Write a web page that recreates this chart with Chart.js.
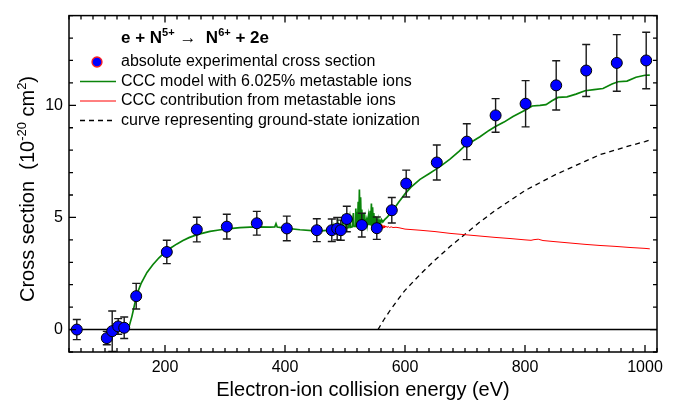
<!DOCTYPE html>
<html lang="en">
  <head>
    <meta charset="UTF-8" />
    <title>e + N5+ ionization</title>
    <style>
      html, body { margin: 0; padding: 0; background: #fff; }
      #wrap { width: 675px; height: 407px; }
    </style>
  </head>
  <body>
    <div id="wrap"><canvas id="myChart" width="675" height="407"></canvas></div>
    <script src="https://cdn.jsdelivr.net/npm/chart.js"></script>
    <script>
      const FONT = "'Liberation Sans', Arial, Helvetica, sans-serif";

      // experimental points (eV, 1e-20 cm^2, error)
      const expEnergy = [53, 103, 112, 122, 132, 152, 203, 253, 303, 353, 403, 453, 478, 487, 493, 503, 528, 553, 578, 602, 653, 703, 751, 801, 852, 902, 953, 1002];
      const expCross = [0.0, -0.38, -0.07, 0.14, 0.08, 1.49, 3.46, 4.46, 4.59, 4.74, 4.51, 4.43, 4.43, 4.5, 4.43, 4.93, 4.66, 4.52, 5.32, 6.51, 7.45, 8.38, 9.55, 10.07, 10.89, 11.55, 11.89, 12.0];
      const expError = [0.45, 0.3, 0.9, 0.35, 0.48, 0.57, 0.52, 0.55, 0.55, 0.53, 0.55, 0.51, 0.5, 0.5, 0.45, 0.57, 0.53, 0.5, 0.57, 0.6, 0.78, 0.8, 0.75, 1.03, 1.1, 1.16, 1.26, 1.26];

      // CCC model with metastables (green)
      const cccEnergy = [130, 135, 140, 145, 150, 155, 160, 170, 180, 190, 200, 210, 220, 230, 240, 250, 260, 275, 290, 300, 325, 350, 375, 383, 385, 387, 400, 425, 450, 460, 470,
        478, 480, 481, 486, 488, 489, 494, 496, 497, 500, 502, 503, 506, 508, 509, 512, 514, 515, 517, 518, 519, 520, 521, 522, 523, 524, 525, 526, 527, 528, 529, 530, 531,
        533, 534, 536, 537, 539, 540, 542, 543, 544, 545, 546, 547, 548, 549, 550, 551, 552, 553, 555, 556, 558, 559, 561, 563, 566, 570, 575, 580, 590, 600, 610, 625, 640,
        650, 660, 675, 690, 700, 710, 725, 740, 750, 765, 780, 800, 812, 825, 835, 845, 855, 870, 885, 900, 915, 930, 945, 955, 970, 985, 1000, 1008];
      const cccCross = [0, 0, 0.12, 0.6, 1.2, 1.7, 2.05, 2.55, 2.9, 3.2, 3.45, 3.65, 3.82, 3.97, 4.1, 4.2, 4.28, 4.38, 4.44, 4.48, 4.55, 4.58, 4.57, 4.58, 4.72, 4.57, 4.52, 4.45, 4.4, 4.4, 4.42,
        4.44, 4.62, 4.45, 4.47, 4.75, 4.47, 4.49, 4.85, 4.5, 4.52, 5.05, 4.53, 4.55, 4.95, 4.56, 4.58, 5.2, 4.6, 4.6, 5.4, 4.62, 5.25, 4.63, 5.7, 4.65, 6.25, 4.67, 5.9, 4.68, 5.35, 4.7, 5.15, 4.7,
        5.0, 4.68, 4.9, 4.66, 5.05, 4.65, 5.3, 4.64, 5.62, 4.64, 5.45, 4.63, 5.2, 4.62, 5.05, 4.62, 4.95, 4.62, 4.9, 4.65, 4.85, 4.7, 4.9, 4.8, 4.9, 5.0, 5.15, 5.32, 5.7, 6.05, 6.35, 6.7, 6.95,
        7.12, 7.3, 7.6, 7.95, 8.2, 8.35, 8.6, 8.88, 9.04, 9.25, 9.5, 9.78, 9.97, 10.0, 10.03, 10.2, 10.35, 10.38, 10.5, 10.65, 10.7, 10.75, 10.95, 11.05, 11.08, 11.25, 11.34, 11.35];

      // CCC metastable contribution (red)
      const metaEnergy = [555, 556, 557, 558, 559, 560, 561, 562, 563, 564, 565, 566, 568, 570, 572, 574, 577, 580, 585, 590, 600, 625, 650, 675, 700, 725, 750, 775, 800, 810, 815, 822, 830, 850, 875, 900, 925, 950, 975, 1000, 1008];
      const metaCross = [4.6, 4.5, 4.72, 4.52, 4.68, 4.5, 4.7, 4.53, 4.65, 4.52, 4.63, 4.54, 4.62, 4.55, 4.6, 4.55, 4.58, 4.55, 4.56, 4.54, 4.48, 4.43, 4.37, 4.29, 4.23, 4.17, 4.11, 4.06, 4.0, 3.98, 4.01, 4.03, 3.97, 3.92, 3.86, 3.8, 3.75, 3.71, 3.66, 3.62, 3.6];

      // ground-state ionization (dashed)
      const groundEnergy = [555, 565, 575, 590, 600, 625, 650, 675, 700, 725, 750, 775, 800, 825, 850, 875, 900, 925, 950, 975, 1000, 1008];
      const groundCross = [0, 0.45, 0.85, 1.4, 1.75, 2.45, 3.1, 3.7, 4.25, 4.8, 5.3, 5.75, 6.2, 6.55, 6.9, 7.2, 7.5, 7.8, 8.0, 8.2, 8.38, 8.45];

      const zeroEnergy = [40, 1020];
      const zeroCross = [0, 0];

      const xTicks = [200, 400, 600, 800, 1000];
      const yTicks = [0, 5, 10];

      const pairs = (xs, ys) => xs.map((x, i) => ({ x: x, y: ys[i] }));

      //error bars under the points, above the lines
      const errorBars = {
        id: "errorBars",
        beforeDatasetDraw(chart, args) {
          if (args.index !== 0) return;
          const { ctx, scales } = chart;
          ctx.save();
          ctx.strokeStyle = "#1a1a1a";
          ctx.lineWidth = 1.4;
          expEnergy.forEach((e, i) => {
            const px = scales.x.getPixelForValue(e);
            const y1 = scales.y.getPixelForValue(expCross[i] - expError[i]);
            const y2 = scales.y.getPixelForValue(expCross[i] + expError[i]);
            ctx.beginPath();
            ctx.moveTo(px, y1);
            ctx.lineTo(px, y2);
            ctx.moveTo(px - 4, y1);
            ctx.lineTo(px + 4, y1);
            ctx.moveTo(px - 4, y2);
            ctx.lineTo(px + 4, y2);
            ctx.stroke();
          });
          ctx.restore();
        },
      };

      // text pieces with superscripts
      const measureRich = (ctx, parts, size) => {
        let w = 0;
        parts.forEach((p) => {
          const s = p.sup ? size * 0.65 : size;
          ctx.font = (p.bold ? "bold " : "") + s + "px " + FONT;
          w += ctx.measureText(p.t).width;
        });
        return w;
      };
      const paintRich = (ctx, parts, x, y, size) => {
        parts.forEach((p) => {
          const s = p.sup ? size * 0.65 : size;
          ctx.font = (p.bold ? "bold " : "") + s + "px " + FONT;
          ctx.fillText(p.t, x, p.sup ? y - size * 0.42 : y);
          x += ctx.measureText(p.t).width;
        });
      };

      const frameAndLegend = {
        id: "frameAndLegend",
        afterDraw(chart) {
          const { ctx, chartArea: a, scales } = chart;
          ctx.save();
          ctx.strokeStyle = "#000";
          ctx.lineWidth = 1.5;
          ctx.strokeRect(a.left, a.top, a.right - a.left, a.bottom - a.top);

          // inward ticks on all four sides
          ctx.lineWidth = 1.3;
          ctx.beginPath();
          for (let v = 40; v <= 1020; v += 20) {
            const px = scales.x.getPixelForValue(v);
            const len = v % 200 === 0 ? 7 : 4;
            ctx.moveTo(px, a.bottom);
            ctx.lineTo(px, a.bottom - len);
            ctx.moveTo(px, a.top);
            ctx.lineTo(px, a.top + len);
          }
          for (let v = -1; v <= 14; v += 1) {
            const py = scales.y.getPixelForValue(v);
            const len = v % 5 === 0 ? 7 : 4;
            ctx.moveTo(a.left, py);
            ctx.lineTo(a.left + len, py);
            ctx.moveTo(a.right, py);
            ctx.lineTo(a.right - len, py);
          }
          ctx.stroke();

          // y axis title with superscripts
          ctx.fillStyle = "#000";
          ctx.textBaseline = "alphabetic";
          ctx.textAlign = "left";
          const yTitle = [
            { t: "Cross section  (10" },
            { t: "-20", sup: true },
            { t: " cm" },
            { t: "2", sup: true },
            { t: ")" },
          ];
          ctx.translate(34, 189);
          ctx.rotate(-Math.PI / 2);
          const tw = measureRich(ctx, yTitle, 20);
          paintRich(ctx, yTitle, -tw / 2, 0, 20);
          ctx.setTransform(1, 0, 0, 1, 0, 0);

          // reaction label
          const reaction = [
            { t: "e + N", bold: true },
            { t: "5+", bold: true, sup: true },
            { t: " \u2192  " },
            { t: "N", bold: true },
            { t: "6+", bold: true, sup: true },
            { t: " + 2e", bold: true },
          ];
          paintRich(ctx, reaction, 121, 43, 17);

          // legend
          const ds = chart.data.datasets;
          const rows = [62, 81.5, 101, 120.5];
          ctx.font = "16px " + FONT;
          ctx.textBaseline = "middle";
          ds.slice(0, 4).forEach((d, i) => {
            const y = rows[i];
            if (i === 0) {
              ctx.beginPath();
              ctx.arc(97, y, 5, 0, Math.PI * 2);
              ctx.fillStyle = d.backgroundColor;
              ctx.fill();
              ctx.strokeStyle = "#ff2020";
              ctx.lineWidth = 1.3;
              ctx.stroke();
            } else {
              ctx.beginPath();
              ctx.setLineDash(d.borderDash || []);
              ctx.strokeStyle = d.borderColor;
              ctx.lineWidth = d.borderWidth;
              ctx.moveTo(80, y);
              ctx.lineTo(116, y);
              ctx.stroke();
              ctx.setLineDash([]);
            }
            ctx.fillStyle = "#000";
            ctx.fillText(d.label, 121, y);
          });
          ctx.restore();
        },
      };

      const ctx = document.getElementById("myChart").getContext("2d");
      let myChart = new Chart(ctx, {
        type: "scatter",
        plugins: [errorBars, frameAndLegend],
        data: {
          datasets: [
            {
              label: "absolute experimental cross section",
              data: pairs(expEnergy, expCross),
              backgroundColor: "#0000ff",
              borderColor: "#000",
              borderWidth: 1,
              pointRadius: 5.5,
              order: 0,
            },
            {
              label: "CCC model with 6.025% metastable ions",
              data: pairs(cccEnergy, cccCross),
              showLine: true,
              borderColor: "#0a840a",
              borderWidth: 1.7,
              pointRadius: 0,
              order: 2,
            },
            {
              label: "CCC contribution from metastable ions",
              data: pairs(metaEnergy, metaCross),
              showLine: true,
              borderColor: "#ff0000",
              borderWidth: 1,
              pointRadius: 0,
              order: 3,
            },
            {
              label: "curve representing ground-state ionization",
              data: pairs(groundEnergy, groundCross),
              showLine: true,
              borderColor: "#000",
              borderWidth: 1.3,
              borderDash: [5, 4],
              pointRadius: 0,
              order: 4,
            },
            {
              label: "zero",
              data: pairs(zeroEnergy, zeroCross),
              showLine: true,
              borderColor: "#000",
              borderWidth: 1.5,
              pointRadius: 0,
              order: 5,
            },
          ],
        },
        options: {
          responsive: false,
          animation: false,
          layout: { padding: { top: 10, right: 18, left: 0, bottom: 0 } },
          plugins: {
            legend: { display: false },
            tooltip: { enabled: false },
          },
          events: [],
          scales: {
            x: {
              type: "linear",
              min: 40,
              max: 1020,
              afterBuildTicks: (s) => { s.ticks = xTicks.map((v) => ({ value: v })); },
              afterFit: (s) => { s.height = 55; },
              grid: { display: false, drawTicks: false },
              border: { display: false },
              ticks: {
                color: "#000",
                padding: 6,
                maxRotation: 0,
                autoSkip: false,
                font: { family: FONT, size: 16 },
                callback: (v) => String(v),
              },
              title: {
                display: true,
                text: "Electron-ion collision energy (eV)",
                color: "#000",
                padding: { top: 0, bottom: 5 },
                font: { family: FONT, size: 20 },
              },
            },
            y: {
              type: "linear",
              min: -1,
              max: 14,
              afterBuildTicks: (s) => { s.ticks = yTicks.map((v) => ({ value: v })); },
              afterFit: (s) => { s.width = 69; },
              grid: { display: false, drawTicks: false },
              border: { display: false },
              ticks: { color: "#000", padding: 6, font: { family: FONT, size: 16 }, callback: (v) => String(v) },
            },
          },
        },
      });
    </script>
  </body>
</html>
